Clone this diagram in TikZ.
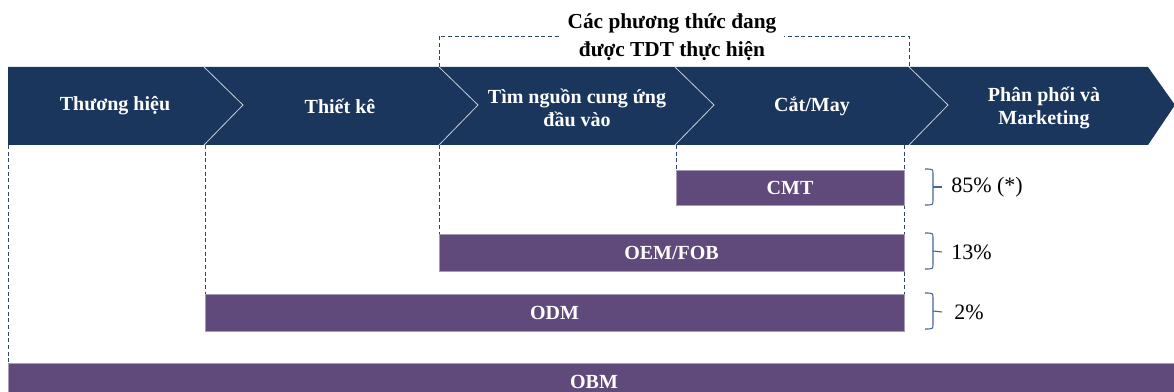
\documentclass[tikz,border=0pt]{standalone}
\usepackage{fontspec}
\setmainfont{Liberation Serif}
\definecolor{navy}{RGB}{27,54,93}
\definecolor{barfill}{RGB}{96,74,123}
\definecolor{braceblue}{RGB}{70,100,150}
\definecolor{guideblue}{RGB}{45,70,110}
\begin{document}
\begin{tikzpicture}[x=0.75pt,y=-0.75pt,
  bandlabel/.style={text=white,font=\bfseries\fontsize{15}{17.5}\selectfont,align=center,inner sep=0pt},
  barbox/.style={fill=barfill,draw=barfill!55!white,line width=0.6pt,text=white,
    font=\bfseries\fontsize{15}{17}\selectfont,inner sep=0pt,outer sep=0pt,anchor=north west},
  guide/.style={draw=guideblue,dashed,line width=0.6pt,dash pattern=on 3pt off 2pt},
  divider/.style={draw=white!75!navy,line width=0.6pt},
  bracestyle/.style={draw=braceblue,line width=0.8pt,line join=round},
  pct/.style={font=\fontsize{16.5}{19}\selectfont,anchor=west,inner sep=0pt},
  titlestyle/.style={font=\bfseries\fontsize{16}{21}\selectfont,align=center,fill=white,inner xsep=6pt,inner ysep=1pt}]
\useasboundingbox (0,0) rectangle (1174,392);
\clip (0,0) rectangle (1174,392);
% band
\fill[navy] (8,67) -- (1148,67) -- (1175,105) -- (1148,145) -- (8,145) -- cycle;
\foreach \x in {204,439,675,909}{
  \draw[divider] (\x,67) -- (\x+39,105) -- (\x,145);
}
% coordinates
\coordinate (b1) at (8,145);
\coordinate (b2) at (205,145);
\coordinate (b3) at (439,145);
\coordinate (b4) at (676,145);
\coordinate (b5) at (904,145);
\coordinate (t1) at (439,67);
\coordinate (t2) at (439,36);
\coordinate (t3) at (909,36);
\coordinate (t4) at (909,67);
% title dashed frame
\draw[guide] (t1) -- (t2) -- (t3) -- (t4);
\node[titlestyle] (title) at (672,37) {Các phương thức đang\\được TDT thực hiện};
% band labels
\node[bandlabel] (l1) at (115,106) {Thương hiệu};
\node[bandlabel] (l2) at (340,106) {Thiết kê};
\node[bandlabel] (l3) at (577,108) {Tìm nguồn cung ứng\\đầu vào};
\node[bandlabel] (l4) at (812,106) {Cắt/May};
\node[bandlabel] (l5) at (1044,108) {Phân phối và\\Marketing};
% guides
\draw[guide] (b5) -- (904,294);
% bars
\node[barbox,minimum width=171pt,minimum height=26.25pt] (cmt) at (676,170) {CMT};
\node[barbox,minimum width=348.75pt,minimum height=27.75pt] (oem) at (439,234) {OEM/FOB};
\node[barbox,minimum width=524.25pt,minimum height=27.75pt] (odm) at (205,294) {ODM};
\node[barbox,minimum width=879pt,minimum height=28.5pt] (obm) at (8,363) {OBM};
\draw[guide] (b1) -- (obm.north west);
\draw[guide] (b2) -- (odm.north west);
\draw[guide] (b3) -- (oem.north west);
\draw[guide] (b4) -- (cmt.north west);
% labels
\node[pct] (p1) at (951,187) {85\% (*)};
\node[pct] (p2) at (951,252) {13\%};
\node[pct] (p3) at (954,312) {2\%};
% braces
\foreach \ya/\yb/\p in {169/205/p1,233/269/p2,293/329/p3}{
  \draw[bracestyle] (925,\ya) .. controls (933,\ya) .. (933,\ya+5)
     -- (933,\yb-5) .. controls (933,\yb) .. (925,\yb);
  \draw[bracestyle] (933,{(\ya+\yb)/2}) -- (\p.west -| 942,0);
}
\end{tikzpicture}
\end{document}
